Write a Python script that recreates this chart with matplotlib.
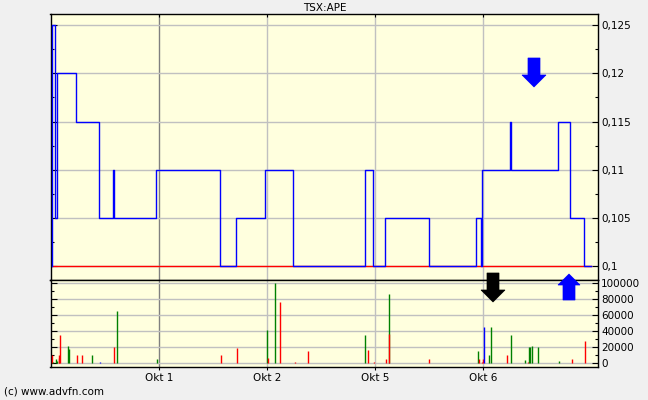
import matplotlib
matplotlib.use("Agg")
import matplotlib.pyplot as plt
from matplotlib.patches import Polygon
from matplotlib.ticker import FixedLocator, MultipleLocator, FuncFormatter

W, H = 648, 400

# ---------------- data ----------------
day_ticks = [0, 1, 2, 3]
day_labels = ['Okt 1', 'Okt 2', 'Okt 5', 'Okt 6']

price_t = [-0.997, -0.996, -0.966, -0.947, -0.769, -0.556, -0.426, -0.424,
           -0.028, 0.565, 0.713, 0.981, 1.241, 1.902, 1.981, 2.093, 2.494,
           2.935, 2.979, 2.988, 3.244, 3.252, 3.694, 3.806, 3.935, 3.994]
price_v = [0.100, 0.125, 0.105, 0.120, 0.115, 0.105, 0.110, 0.105,
           0.110, 0.100, 0.105, 0.110, 0.100, 0.110, 0.100, 0.105, 0.100,
           0.105, 0.100, 0.110, 0.115, 0.110, 0.115, 0.105, 0.100, 0.100]

base_t = [-0.996, 3.994]
base_v = [0.100, 0.100]

vol_t = [-0.995, -0.984, -0.954, -0.944, -0.931, -0.926, -0.917, -0.843,
         -0.833, -0.759, -0.713, -0.620, -0.546, -0.417, -0.389, -0.019,
         0.574, 0.722, 0.994, 1.004, 1.074, 1.120, 1.254, 1.380,
         1.907, 1.935, 1.991, 2.102, 2.124, 2.124,
         2.500, 2.954, 2.963, 2.991, 3.000, 3.009, 3.056, 3.074, 3.222,
         3.259, 3.389, 3.417, 3.426, 3.435, 3.454, 3.509, 3.704, 3.824, 3.944]
vol_v = [10400, 2100, 5400, 3000, 7100, 10400, 35400, 21600,
         17900, 10400, 10400, 10400, 1700, 20400, 65400, 5400,
         10400, 19200, 41700, 6700, 100400, 76700, 2000, 15400,
         35400, 17100, 2000, 5400, 87100, 36700,
         5400, 15400, 5400, 2000, 5400, 45400, 10400, 45400, 10400,
         35400, 4200, 2000, 20400, 20400, 21600, 20400, 2900, 5400, 28400]
vol_c = ['r', 'g', 'g', 'g', 'r', 'r', 'r', 'g',
         'g', 'r', 'r', 'g', 'b', 'r', 'g', 'g',
         'r', 'r', 'g', 'r', 'g', 'r', 'r', 'r',
         'g', 'r', 'r', 'r', 'g', 'r',
         'r', 'g', 'r', 'r', 'r', 'b', 'g', 'g', 'r',
         'g', 'g', 'r', 'g', 'g', 'g', 'g', 'g', 'r', 'r']

price_ticks = [0.100, 0.105, 0.110, 0.115, 0.120, 0.125]
vol_ticks = [0, 20000, 40000, 60000, 80000, 100000]

# ---------------- styling ----------------
BG = '#f0f0f0'
PLOT_BG = '#ffffde'
GRID = '#c0c0c0'
GRID_DARK = '#808080'
COLMAP = {'r': '#ff0000', 'g': '#008000', 'b': '#0000ff'}

fig = plt.figure(figsize=(W / 100, H / 100), dpi=100, facecolor=BG)

L = 50.5 / W
R = 598.3 / W
ax1 = fig.add_axes([L, 1 - 280 / H, R - L, (280 - 14) / H])
ax2 = fig.add_axes([L, 1 - 367 / H, R - L, (367 - 280) / H])

x_left = (50.5 - 159.3) / 108
x_right = (598.3 - 159.3) / 108

for ax in (ax1, ax2):
    ax.set_facecolor(PLOT_BG)
    ax.set_xlim(x_left, x_right)
    for s in ax.spines.values():
        s.set_color('black')
        s.set_linewidth(1.0)
    for i, d in enumerate(day_ticks):
        ax.axvline(d, color=GRID_DARK if i == 0 else GRID, lw=1.0, zorder=0.5)

# price panel
ax1.set_ylim(0.09858, 0.12614)
for v in price_ticks:
    ax1.axhline(v, color=GRID, lw=1.0, zorder=0.5)
ax1.plot(base_t, base_v, color='#ff0000', lw=1.0, zorder=2)
ax1.step(price_t, price_v, where='post', color='#0000ff', lw=1.0, zorder=3)

ax1.yaxis.set_major_locator(FixedLocator(price_ticks))
ax1.yaxis.set_minor_locator(MultipleLocator(0.0025))
ax1.yaxis.set_major_formatter(FuncFormatter(
    lambda v, p: ('%.3f' % v).rstrip('0').replace('.', ',')))
ax1.tick_params(axis='y', which='both', direction='in', left=True, right=True,
                labelleft=False, labelright=True, labelsize=7.5, pad=2,
                width=0.8, color='black')
ax1.tick_params(axis='y', which='major', length=4)
ax1.tick_params(axis='y', which='minor', length=2.5)
ax1.xaxis.set_major_locator(FixedLocator(day_ticks))
ax1.tick_params(axis='x', which='both', direction='in', top=True, bottom=False,
                labelbottom=False, length=2.5, width=0.8)

# volume panel
ax2.set_ylim(-4600, 104100)
for v in vol_ticks:
    ax2.axhline(v, color=GRID, lw=1.0, zorder=0.5)
ax2.vlines(vol_t, 0, vol_v, colors=[COLMAP[c] for c in vol_c], lw=1.0, zorder=3)

ax2.yaxis.set_major_locator(FixedLocator(vol_ticks))
ax2.yaxis.set_minor_locator(MultipleLocator(10000))
ax2.yaxis.set_major_formatter(FuncFormatter(lambda v, p: '%d' % round(v)))
ax2.tick_params(axis='y', which='both', direction='in', left=True, right=True,
                labelleft=False, labelright=True, labelsize=7.5, pad=2,
                width=0.8)
ax2.tick_params(axis='y', which='major', length=4)
ax2.tick_params(axis='y', which='minor', length=2.5)
ax2.xaxis.set_major_locator(FixedLocator(day_ticks))
ax2.set_xticklabels(day_labels)
ax2.tick_params(axis='x', direction='out', length=2.5, width=0.8,
                labelsize=7.5, pad=1.5)


def px(x, y):
    return (x / W, 1 - y / H)


def arrow(xs_ys, color):
    pts = [px(x, y) for x, y in xs_ys]
    fig.patches.append(Polygon(pts, closed=True, transform=fig.transFigure,
                               facecolor=color, edgecolor=color, lw=0.5,
                               zorder=10))


# blue down arrow (top right)
arrow([(528, 58), (540, 58), (540, 75), (546, 75), (534, 87), (522, 75),
       (528, 75)], '#0000ff')
# black down arrow (volume panel)
arrow([(487, 273), (499, 273), (499, 290), (505, 290), (493, 302), (481, 290),
       (487, 290)], '#000000')
# blue up arrow (volume panel)
arrow([(563, 300), (575, 300), (575, 285), (580, 285), (569, 274), (558, 285),
       (563, 285)], '#0000ff')

fig.text(325 / W, 1 - 8 / H, 'TSX:APE', ha='center', va='center', fontsize=7.5)
fig.text(4 / W, 1 - 392 / H, '(c) www.advfn.com', ha='left', va='center',
         fontsize=7.5)

fig.savefig('out.png', dpi=100, facecolor=BG)
